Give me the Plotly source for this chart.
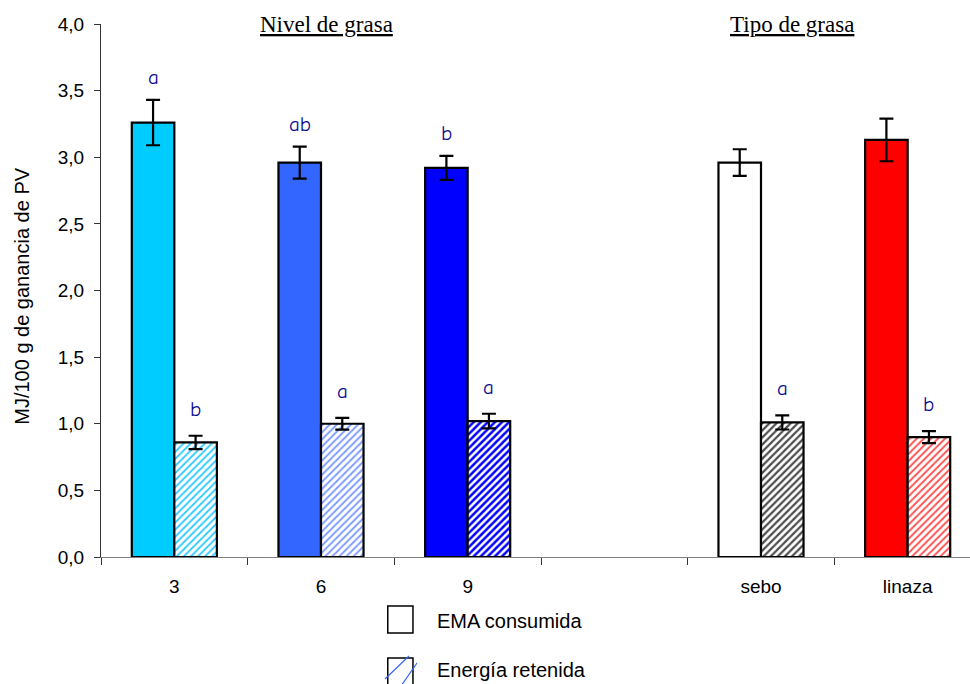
import plotly.graph_objects as go

# Categories (numeric slot 3 is an intentional empty gap between the two groups)
categories = ["3", "6", "9", "sebo", "linaza"]
positions = [0, 1, 2, 4, 5]

# EMA consumida (MJ/100 g de ganancia de PV) and standard errors
ema_values = [3.26, 2.96, 2.92, 2.96, 3.13]
ema_errors = [0.17, 0.12, 0.09, 0.10, 0.16]
ema_letters = ["a", "ab", "b", "", ""]

# Energía retenida and standard errors
ret_values = [0.86, 1.00, 1.02, 1.01, 0.90]
ret_errors = [0.05, 0.044, 0.055, 0.053, 0.045]
ret_letters = ["b", "a", "a", "a", "b"]

ema_colors = ["#00CCFF", "#3366FF", "#0000FF", "#FFFFFF", "#FF0000"]
ret_hatch_colors = ["#33CCFF", "#7E9CFF", "#0000FF", "#4D4D4D", "#FF5050"]
ret_hatch_solidity = [0.38, 0.38, 0.5, 0.45, 0.38]

group_titles = ["Nivel de grasa", "Tipo de grasa"]
legend_labels = ["EMA consumida", "Energía retenida"]

bargap = 0.42
bar_w = (1 - bargap) / 2

fig = go.Figure()

fig.add_trace(go.Bar(
    x=positions, y=ema_values, name=legend_labels[0],
    marker=dict(color=ema_colors, line=dict(color="black", width=2.2)),
    error_y=dict(type="data", array=ema_errors, color="black", thickness=2.2, width=7),
    showlegend=False,
))

fig.add_trace(go.Bar(
    x=positions, y=ret_values, name=legend_labels[1],
    marker=dict(
        color="white",
        line=dict(color="black", width=2.2),
        pattern=dict(shape="/", fgcolor=ret_hatch_colors, bgcolor="white",
                     size=5, solidity=ret_hatch_solidity, fillmode="replace"),
    ),
    error_y=dict(type="data", array=ret_errors, color="black", thickness=2.2, width=7),
    showlegend=False,
))

letter_font = dict(family="Comic Sans MS, Comic Neue, Lato, sans-serif", size=21, color="#0A0A90")

annotations = []
for p, v, e, t in zip(positions, ema_values, ema_errors, ema_letters):
    if t:
        annotations.append(dict(x=p - bar_w / 2, y=v + e, xref="x", yref="y", text=t,
                                showarrow=False, yanchor="bottom", yshift=9, font=letter_font))
for p, v, e, t in zip(positions, ret_values, ret_errors, ret_letters):
    if t:
        annotations.append(dict(x=p + bar_w / 2, y=v + e, xref="x", yref="y", text=t,
                                showarrow=False, yanchor="bottom", yshift=13, font=letter_font))

# Group headings
title_font = dict(family="Liberation Serif, Times New Roman, serif", size=23, color="black")
annotations.append(dict(x=0.26, y=1.0, xref="paper", yref="paper", text="<u>%s</u>" % group_titles[0],
                        showarrow=False, xanchor="center", yanchor="middle", font=title_font))
annotations.append(dict(x=0.795, y=1.0, xref="paper", yref="paper", text="<u>%s</u>" % group_titles[1],
                        showarrow=False, xanchor="center", yanchor="middle", font=title_font))

# Y axis title
annotations.append(dict(x=-0.091, y=0.49, xref="paper", yref="paper",
                        text="MJ/100 g de ganancia de PV", textangle=-90, showarrow=False,
                        xanchor="center", yanchor="middle",
                        font=dict(family="Liberation Sans, Arial, sans-serif", size=20, color="black")))

# Legend text
legend_font = dict(family="Liberation Sans, Arial, sans-serif", size=20, color="black")
annotations.append(dict(x=0.3843, y=-0.120, xref="paper", yref="paper", text=legend_labels[0],
                        showarrow=False, xanchor="left", yanchor="middle", font=legend_font))
annotations.append(dict(x=0.3843, y=-0.212, xref="paper", yref="paper", text=legend_labels[1],
                        showarrow=False, xanchor="left", yanchor="middle", font=legend_font))

shapes = [
    # EMA legend swatch
    dict(type="rect", xref="paper", yref="paper", x0=0.330, x1=0.359, y0=-0.1426, y1=-0.092,
         line=dict(color="black", width=1.5), fillcolor="white"),
    # Energía retenida legend swatch with hatch strokes
    dict(type="rect", xref="paper", yref="paper", x0=0.330, x1=0.359, y0=-0.245, y1=-0.1895,
         line=dict(color="black", width=1.5), fillcolor="white"),
    dict(type="line", xref="paper", yref="paper", x0=0.3268, y0=-0.2289, x1=0.3544, y1=-0.1857,
         line=dict(color="#3366FF", width=1.2)),
    dict(type="line", xref="paper", yref="paper", x0=0.344, y0=-0.245, x1=0.3636, y1=-0.1989,
         line=dict(color="#3366FF", width=1.2)),
]

axis_font = dict(family="Liberation Sans, Arial, sans-serif", size=19, color="black")

fig.update_layout(
    width=970, height=684, autosize=False,
    margin=dict(l=101, r=0, t=24, b=127),
    paper_bgcolor="white", plot_bgcolor="white",
    barmode="group", bargap=bargap, bargroupgap=0,
    separators=",.",
    annotations=annotations, shapes=shapes,
    xaxis=dict(
        range=[-0.5, 5.425], tickmode="array", tickvals=positions, ticktext=categories,
        ticks="", showline=True, linecolor="#808080", linewidth=1.3,
        showgrid=False, zeroline=False, tickfont=axis_font, ticklabelstandoff=12,
        minor=dict(tickmode="array", tickvals=[-0.5, 0.5, 1.5, 2.5, 3.5, 4.5],
                   ticks="outside", ticklen=7, tickcolor="#333333", tickwidth=1),
    ),
    yaxis=dict(
        range=[0, 4.0], tickmode="array", tickvals=[0, 0.5, 1.0, 1.5, 2.0, 2.5, 3.0, 3.5, 4.0],
        tickformat=".1f", ticks="outside", ticklen=6, tickcolor="#333333",
        showline=True, linecolor="#333333", linewidth=1, ticklabelstandoff=6,
        showgrid=False, zeroline=False, tickfont=axis_font,
    ),
)

fig.write_html("out.html")
